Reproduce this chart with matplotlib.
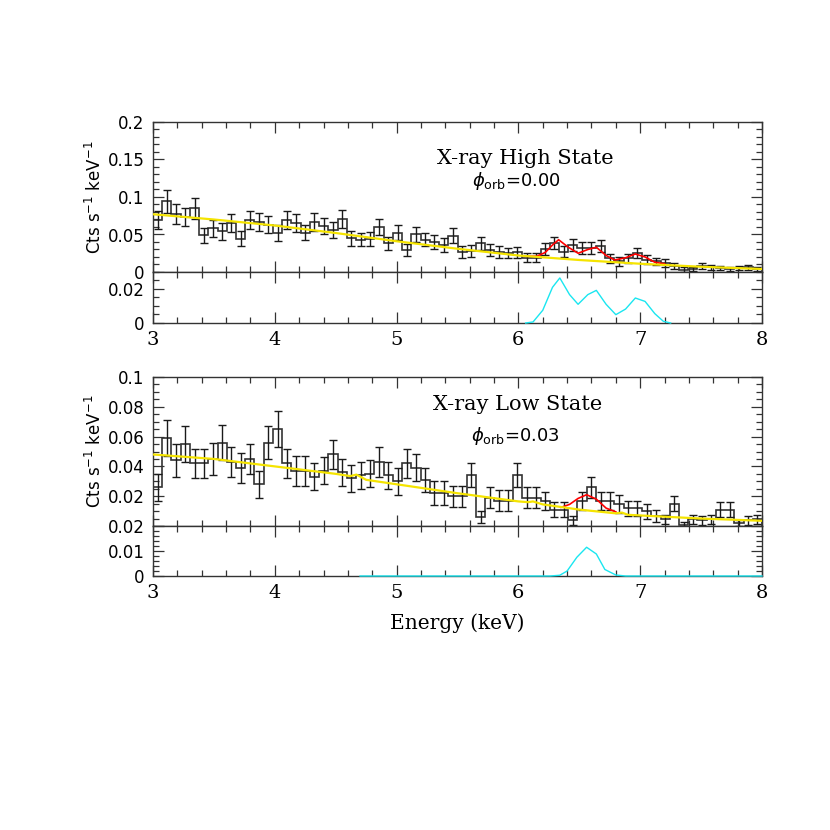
import numpy as np
import matplotlib
matplotlib.use("Agg")
from matplotlib import pyplot as plt
from matplotlib.ticker import MultipleLocator, FuncFormatter

# binned spectra (66 bins, 3-8 keV)
high_rate = [0.069, 0.094, 0.077, 0.073, 0.085, 0.049, 0.058, 0.054, 0.065, 0.044, 0.069, 0.067,
             0.063, 0.052, 0.069, 0.065, 0.052, 0.067, 0.061, 0.056, 0.071, 0.045, 0.043,
             0.044, 0.060, 0.038, 0.052, 0.029, 0.050, 0.043, 0.040, 0.036, 0.048, 0.027, 0.028,
             0.038, 0.029, 0.027, 0.025, 0.026, 0.019, 0.019, 0.030, 0.038, 0.027,
             0.036, 0.032, 0.032, 0.034, 0.018, 0.014, 0.018, 0.025, 0.016, 0.014, 0.012, 0.008,
             0.003, 0.004, 0.008, 0.006, 0.005, 0.004, 0.005, 0.006, 0.004]
high_err = [0.012, 0.015, 0.013, 0.012, 0.014, 0.010, 0.011, 0.011, 0.012, 0.010, 0.012, 0.012,
            0.011, 0.011, 0.012, 0.012, 0.010, 0.012, 0.011, 0.011, 0.012, 0.010, 0.009,
            0.009, 0.011, 0.009, 0.010, 0.008, 0.010, 0.009, 0.009, 0.009, 0.010, 0.008, 0.008,
            0.009, 0.008, 0.008, 0.007, 0.007, 0.006, 0.006, 0.008, 0.008, 0.007,
            0.008, 0.008, 0.008, 0.008, 0.006, 0.006, 0.006, 0.007, 0.006, 0.005, 0.005, 0.004,
            0.003, 0.003, 0.004, 0.003, 0.003, 0.003, 0.003, 0.003, 0.003]

low_rate = [0.026, 0.059, 0.044, 0.055, 0.042, 0.042, 0.045, 0.056, 0.043, 0.039, 0.045, 0.028,
            0.056, 0.065, 0.042, 0.037, 0.037, 0.033, 0.037, 0.048, 0.036, 0.032, 0.034,
            0.035, 0.043, 0.034, 0.030, 0.042, 0.039, 0.031, 0.022, 0.022, 0.020, 0.020, 0.034,
            0.006, 0.019, 0.017, 0.017, 0.034, 0.019, 0.019, 0.017, 0.011, 0.011,
            0.004, 0.017, 0.026, 0.017, 0.017, 0.015, 0.012, 0.012, 0.010, 0.007, 0.0045, 0.015,
            0.0007, 0.0045, 0.004, 0.0045, 0.011, 0.011, 0.002, 0.004, 0.0045]
low_err = [0.009, 0.012, 0.011, 0.012, 0.010, 0.010, 0.011, 0.012, 0.010, 0.010, 0.010, 0.009,
           0.011, 0.012, 0.010, 0.010, 0.010, 0.009, 0.009, 0.010, 0.009, 0.009, 0.009,
           0.009, 0.010, 0.009, 0.009, 0.010, 0.009, 0.008, 0.008, 0.008, 0.007, 0.007, 0.008,
           0.004, 0.007, 0.007, 0.007, 0.008, 0.007, 0.007, 0.006, 0.005, 0.005,
           0.003, 0.006, 0.007, 0.006, 0.006, 0.006, 0.005, 0.005, 0.005, 0.004, 0.003, 0.005,
           0.002, 0.003, 0.003, 0.003, 0.005, 0.005, 0.002, 0.003, 0.003]

# continuum models (yellow)
high_cont_e = [3.0, 3.5, 4.0, 4.5, 5.0, 5.5, 6.0, 6.5, 7.0, 7.5, 8.0]
high_cont = [0.077, 0.070, 0.062, 0.052, 0.041, 0.031, 0.022, 0.016, 0.011, 0.007, 0.004]
low_cont_e = [3.0, 3.5, 4.0, 4.5, 4.62, 4.67, 4.75, 5.0, 5.5, 6.0, 6.08, 6.12, 6.2,
              6.5, 6.8, 6.85, 6.9, 7.5, 8.0]
low_cont = [0.048, 0.045, 0.040, 0.035, 0.0335, 0.0345, 0.031, 0.028, 0.022, 0.0165, 0.016,
            0.0165, 0.0145, 0.011, 0.0085, 0.009, 0.0075, 0.005, 0.0035]

# continuum + lines (red)
high_line_e = [6.05, 6.15, 6.22, 6.28, 6.33, 6.41, 6.49, 6.57, 6.64, 6.72, 6.79, 6.88,
               6.96, 7.04, 7.12, 7.2]
high_line = [0.021, 0.021, 0.026, 0.036, 0.043, 0.033, 0.025, 0.030, 0.033, 0.022, 0.016,
             0.019, 0.024, 0.020, 0.013, 0.011]
low_line_e = [6.35, 6.42, 6.49, 6.56, 6.64, 6.72, 6.80]
low_line = [0.0125, 0.0145, 0.0185, 0.021, 0.018, 0.012, 0.0095]

# line components (cyan)
high_gau_e = [6.06, 6.12, 6.20, 6.28, 6.34, 6.42, 6.49, 6.57, 6.64, 6.72, 6.80, 6.88,
              6.96, 7.04, 7.12, 7.19, 7.25]
high_gau = [0.0, 0.0006, 0.0075, 0.021, 0.0265, 0.0167, 0.011, 0.0167, 0.0192, 0.011,
            0.0049, 0.0082, 0.0147, 0.0127, 0.0055, 0.001, 0.0]
low_gau_e = [4.70, 6.26, 6.34, 6.40, 6.48, 6.56, 6.64, 6.71, 6.80, 6.88, 8.0]
low_gau = [0.0, 0.0, 0.0003, 0.002, 0.0075, 0.0115, 0.0088, 0.0026, 0.0004, 0.0, 0.0]

edges = np.linspace(3.0, 8.0, len(high_rate) + 1)
centers = 0.5 * (edges[:-1] + edges[1:])

W, H = 830, 830
fig = plt.figure(figsize=(8.3, 8.3), dpi=100)
SERIF = "DejaVu Serif"


def box(x0, y0, x1, y1):
    # pixel box (from top-left) -> figure axes
    return fig.add_axes([x0 / W, 1 - y1 / H, (x1 - x0) / W, (y1 - y0) / H])


def px_text(x, y, s, **kw):
    fig.text(x / W, 1 - y / H, s, ha="center", va="center", **kw)


def style(ax, ymax, ymaj, ymin, xlabels, skip_zero=False):
    ax.set_xlim(3, 8)
    ax.set_ylim(0, ymax)
    ax.xaxis.set_major_locator(MultipleLocator(1))
    ax.xaxis.set_minor_locator(MultipleLocator(0.2))
    ax.yaxis.set_major_locator(MultipleLocator(ymaj))
    ax.yaxis.set_minor_locator(MultipleLocator(ymin))

    def fmt(v, pos):
        if skip_zero and abs(v) < 1e-9:
            return ""
        return "%g" % round(v, 4)
    ax.yaxis.set_major_formatter(FuncFormatter(fmt))
    ax.tick_params(which="both", direction="in", top=True, right=True, width=0.9,
                   colors="0.2")
    ax.tick_params(which="major", length=8)
    ax.tick_params(which="minor", length=4)
    ax.tick_params(axis="y", labelsize=12, pad=6, labelcolor="black")
    ax.tick_params(axis="x", labelsize=14, pad=6, labelcolor="black")
    for lab in ax.get_xticklabels():
        lab.set_family(SERIF)
    if not xlabels:
        ax.tick_params(axis="x", labelbottom=False)
    for sp in ax.spines.values():
        sp.set_linewidth(1.0)
        sp.set_color("0.2")


def spectrum(ax, rate, err, ce, cv, le, lv):
    ax.stairs(rate, edges, color="0.2", lw=1.2)
    ax.errorbar(centers, rate, yerr=err, fmt="none", ecolor="0.1", elinewidth=1.0,
                capsize=3, capthick=1.0)
    ax.plot(le, lv, color="red", lw=1.2, zorder=3)
    ax.plot(ce, cv, color="#f5e400", lw=1.6, zorder=4)


ax1 = box(153, 122, 762, 272)
spectrum(ax1, high_rate, high_err, high_cont_e, high_cont, high_line_e, high_line)
style(ax1, 0.2, 0.05, 0.01, False)
ax1.set_ylabel("Cts s$^{-1}$ keV$^{-1}$", fontsize=12, labelpad=2)
px_text(525, 158, "X-ray High State", fontsize=15, family=SERIF)
px_text(517, 181, r"$\phi_{\rm orb}$=0.00", fontsize=13)

ax2 = box(153, 272, 762, 323)
ax2.plot(high_gau_e, high_gau, color="#1ae6f0", lw=1.0, zorder=5, clip_on=False)
style(ax2, 0.03, 0.02, 0.005, True)

ax3 = box(153, 377, 762, 526)
spectrum(ax3, low_rate, low_err, low_cont_e, low_cont, low_line_e, low_line)
style(ax3, 0.1, 0.02, 0.005, False, skip_zero=True)
ax3.set_ylabel("Cts s$^{-1}$ keV$^{-1}$", fontsize=12, labelpad=2)
px_text(518, 404, "X-ray Low State", fontsize=15, family=SERIF)
px_text(515, 436, r"$\phi_{\rm orb}$=0.03", fontsize=13)

ax4 = box(153, 526, 762, 576)
ax4.plot(low_gau_e, low_gau, color="#1ae6f0", lw=1.0, zorder=5, clip_on=False)
style(ax4, 0.02, 0.01, 0.002, True)
ax4.set_xlabel("Energy (keV)", fontsize=14.5, family=SERIF, labelpad=8)

fig.savefig("out.png", dpi=100)
